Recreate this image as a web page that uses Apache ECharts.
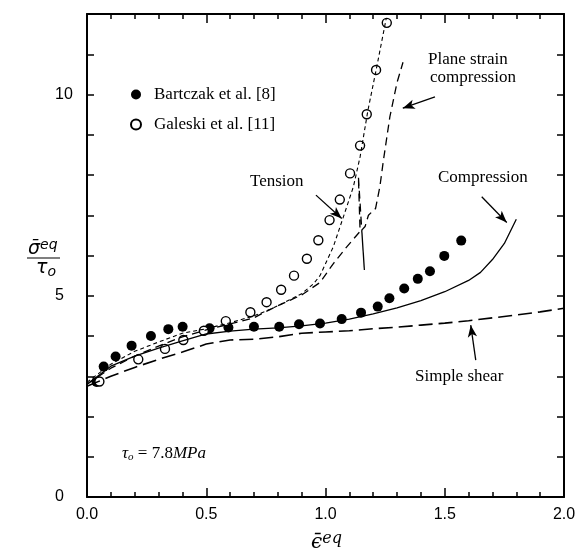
<!DOCTYPE html>
<html><head><meta charset="utf-8">
<script src="https://cdn.jsdelivr.net/npm/echarts@6/dist/echarts.min.js"></script>
<style>html,body{margin:0;padding:0;background:#fff}#c{width:586px;height:557px}</style>
</head><body><div id="c"></div>
<script>
// ---- data ----
const xTickLabels = ['0.0','0.5','1.0','1.5','2.0'];
const yTickLabels = [0,5,10];

const bartczakX = [0.04,0.07,0.12,0.187,0.268,0.341,0.401,0.514,0.593,0.7,0.806,0.889,0.977,1.068,1.149,1.219,1.268,1.33,1.387,1.438,1.498,1.569];
const bartczakY = [2.86,3.24,3.49,3.76,4.0,4.17,4.23,4.19,4.21,4.23,4.23,4.29,4.31,4.42,4.58,4.73,4.94,5.18,5.42,5.61,5.99,6.37];

const galeskiX = [0.052,0.215,0.327,0.404,0.49,0.582,0.685,0.753,0.814,0.868,0.922,0.97,1.017,1.06,1.103,1.145,1.173,1.212,1.257];
const galeskiY = [2.87,3.42,3.68,3.9,4.13,4.37,4.59,4.84,5.15,5.5,5.92,6.38,6.88,7.39,8.04,8.73,9.51,10.61,11.78];

const tensionX = [0,0.1,0.2,0.3,0.4,0.5,0.6,0.7,0.75,0.8,0.85,0.9,0.95,0.977,1.033,1.075,1.117,1.145,1.178,1.215,1.255];
const tensionY = [2.85,3.3,3.62,3.85,4.07,4.18,4.33,4.5,4.62,4.75,4.9,5.05,5.3,5.5,6.22,6.96,7.71,8.45,9.61,10.69,11.9];

const planeX = [0,0.1,0.2,0.3,0.4,0.5,0.6,0.7,0.74,0.8,0.9,0.977,1.033,1.09,1.145,1.138,1.152,1.166,1.18,1.21,1.228,1.243,1.27,1.3,1.325];
const planeY = [2.8,3.2,3.5,3.75,3.98,4.15,4.3,4.45,4.58,4.75,5.02,5.33,5.8,6.22,6.6,7.96,6.63,6.72,7.0,7.17,7.71,8.37,9.45,10.3,10.8];
const spikeX = [1.152,1.163];
const spikeY = [6.63,5.64];

const shearX = [0,0.1,0.2,0.3,0.4,0.5,0.6,0.7,0.8,0.9,1.0,1.1,1.2,1.3,1.4,1.5,1.6,1.7,1.8,1.9,2.0];
const shearY = [2.75,3.0,3.22,3.42,3.6,3.8,3.9,3.92,3.98,4.07,4.1,4.13,4.18,4.22,4.27,4.32,4.38,4.45,4.52,4.6,4.69];

const compX = [0,0.1,0.2,0.3,0.4,0.5,0.6,0.7,0.8,0.9,1.0,1.1,1.2,1.3,1.4,1.5,1.6,1.65,1.7,1.75,1.8];
const compY = [2.8,3.25,3.5,3.7,3.88,4.05,4.12,4.17,4.2,4.25,4.32,4.42,4.55,4.7,4.88,5.1,5.38,5.58,5.9,6.3,6.9];

// arrows: [fromX, fromY, toX, toY]
const arrowTension = [0.96,7.5,1.068,6.92];
const arrowPlane = [1.459,9.94,1.324,9.66];
const arrowComp = [1.655,7.46,1.76,6.82];
const arrowShear = [1.63,3.4,1.609,4.27];

const zip = (xs, ys) => xs.map((x, i) => [x, ys[i]]);
const serif = 'Liberation Serif';
const tickFont = 'Liberation Sans';

const chart = echarts.init(document.getElementById('c'), null, {renderer: 'canvas'});

const axisCommon = {
  type: 'value',
  axisLine: {show: true, onZero: false, lineStyle: {color: '#000', width: 2}},
  splitLine: {show: false},
};

const mkArrow = a => [{coord: [a[0], a[1]]}, {coord: [a[2], a[3]]}];

const option = {
  animation: false,
  backgroundColor: '#fff',
  grid: {left: 87, right: 22, top: 14, bottom: 60},
  legend: {
    data: ['Bartczak et al. [8]', 'Galeski et al. [11]'],
    orient: 'vertical',
    left: 130, top: 86, padding: 0,
    itemWidth: 10, itemHeight: 10, itemGap: 13,
    textStyle: {fontFamily: serif, fontSize: 17, color: '#000', padding: [0, 0, 0, 8]},
    selectedMode: false
  },
  xAxis: [
    Object.assign({}, axisCommon, {
      min: 0, max: 2, interval: 0.5, position: 'bottom',
      axisTick: {inside: true, length: 9, lineStyle: {color: '#000', width: 1.5}},
      minorTick: {show: true, splitNumber: 5, length: 5, lineStyle: {color: '#000', width: 1.5}},
      axisLabel: {margin: 10, fontFamily: tickFont, fontSize: 16, color: '#000',
        formatter: v => xTickLabels[Math.round(v / 0.5)] || ''}
    }),
    Object.assign({}, axisCommon, {
      min: 0, max: 2, interval: 0.5, position: 'top',
      axisTick: {inside: true, length: 9, lineStyle: {color: '#000', width: 1.5}},
      minorTick: {show: true, splitNumber: 5, length: 5, lineStyle: {color: '#000', width: 1.5}},
      axisLabel: {show: false}
    })
  ],
  yAxis: [
    Object.assign({}, axisCommon, {
      min: 0, max: 12, interval: 1, position: 'left',
      axisTick: {inside: true, length: 7, lineStyle: {color: '#000', width: 1.5}},
      axisLabel: {margin: 32, align: 'left', fontFamily: tickFont, fontSize: 16, color: '#000',
        formatter: v => (yTickLabels.indexOf(v) >= 0 ? String(v) : '')}
    }),
    Object.assign({}, axisCommon, {
      min: 0, max: 12, interval: 1, position: 'right',
      axisTick: {inside: true, length: 7, lineStyle: {color: '#000', width: 1.5}},
      axisLabel: {show: false}
    })
  ],
  series: [
    {name: 'Simple shear', type: 'line', data: zip(shearX, shearY), symbol: 'none', silent: true,
      lineStyle: {color: '#000', width: 1.6, type: [14, 6]}},
    {name: 'Compression', type: 'line', data: zip(compX, compY), symbol: 'none', silent: true,
      lineStyle: {color: '#000', width: 1.3, type: 'solid'}},
    {name: 'Plane strain compression', type: 'line', data: zip(planeX, planeY), symbol: 'none', silent: true,
      lineStyle: {color: '#000', width: 1.3, type: [8, 5]}},
    {name: 'spike', type: 'line', data: zip(spikeX, spikeY), symbol: 'none', silent: true,
      lineStyle: {color: '#000', width: 1.3, type: 'solid'}},
    {name: 'Tension', type: 'line', data: zip(tensionX, tensionY), symbol: 'none', silent: true,
      lineStyle: {color: '#000', width: 1.1, type: [4, 3]}},
    {name: 'Bartczak et al. [8]', type: 'scatter', data: zip(bartczakX, bartczakY), symbol: 'circle', symbolSize: 10,
      itemStyle: {color: '#000', opacity: 1}},
    {name: 'Galeski et al. [11]', type: 'scatter', data: zip(galeskiX, galeskiY), symbol: 'circle', symbolSize: 9,
      itemStyle: {color: '#fff', borderColor: '#000', borderWidth: 1.4, opacity: 1}},
    {name: 'arrows', type: 'line', data: [], silent: true,
      markLine: {
        silent: true, symbol: ['none', 'arrow'], symbolSize: [7, 12],
        label: {show: false},
        lineStyle: {color: '#000', width: 1.3, type: 'solid'},
        data: [mkArrow(arrowTension), mkArrow(arrowPlane), mkArrow(arrowComp), mkArrow(arrowShear)]
      }}
  ],
  graphic: [
    {type: 'text', left: 250, top: 173, style: {text: 'Tension', font: '17px "Liberation Serif"', fill: '#000'}},
    {type: 'text', left: 428, top: 51, style: {text: 'Plane strain', font: '17px "Liberation Serif"', fill: '#000'}},
    {type: 'text', left: 430, top: 69, style: {text: 'compression', font: '17px "Liberation Serif"', fill: '#000'}},
    {type: 'text', left: 438, top: 169, style: {text: 'Compression', font: '17px "Liberation Serif"', fill: '#000'}},
    {type: 'text', left: 415, top: 368, style: {text: 'Simple shear', font: '17px "Liberation Serif"', fill: '#000'}},
    {type: 'text', left: 122, top: 445, style: {
      text: '{t|τ}{o|o}{r| = 7.8}{i|MPa}',
      rich: {
        t: {font: 'italic 17px "Liberation Serif"', fill: '#000'},
        o: {font: 'italic 11px "Liberation Serif"', fill: '#000', padding: [8, 0, 0, 0]},
        r: {font: '17px "Liberation Serif"', fill: '#000'},
        i: {font: 'italic 17px "Liberation Serif"', fill: '#000'}
      }}},
    // y-axis label: sigma-bar^eq over tau_o
    {type: 'text', left: 28, top: 238, style: {
      text: '{s|σ̄}{e|eq}',
      rich: {
        s: {font: 'italic 19px "DejaVu Sans"', fill: '#000'},
        e: {font: 'italic 14px "DejaVu Sans"', fill: '#000', padding: [0, 0, 8, 0]}
      }}},
    {type: 'line', shape: {x1: 27, y1: 258, x2: 60, y2: 258}, style: {stroke: '#000', lineWidth: 1.2}},
    {type: 'text', left: 36, top: 259, style: {
      text: '{t|τ}{o|o}',
      rich: {
        t: {font: 'italic 19px "DejaVu Sans"', fill: '#000'},
        o: {font: 'italic 14px "DejaVu Sans"', fill: '#000', padding: [8, 0, 0, 0]}
      }}},
    // x-axis label: epsilon-bar^eq
    {type: 'text', left: 311, top: 531, style: {
      text: '{s|ϵ̄}{e|eq}',
      rich: {
        s: {font: 'italic 20px "DejaVu Serif"', fill: '#000'},
        e: {font: 'italic 16px "DejaVu Serif"', fill: '#000', padding: [0, 0, 8, 0]}
      }}}
  ]
};
chart.setOption(option);
</script>
</body></html>
